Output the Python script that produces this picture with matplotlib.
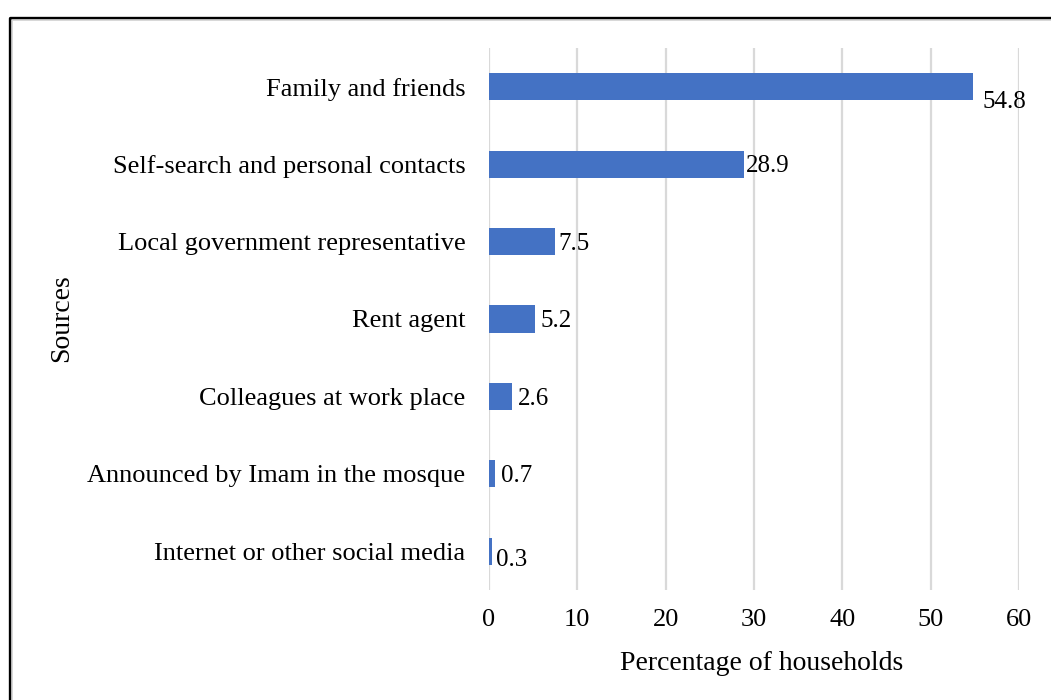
import matplotlib
matplotlib.use("Agg")
import matplotlib.pyplot as plt
from matplotlib.lines import Line2D

sources = [
    "Family and friends",
    "Self-search and personal contacts",
    "Local government representative",
    "Rent agent",
    "Colleagues at work place",
    "Announced by Imam in the mosque",
    "Internet or other social media",
]
percentages = [54.8, 28.9, 7.5, 5.2, 2.6, 0.7, 0.3]
x_ticks = [0, 10, 20, 30, 40, 50, 60]

plt.rcParams["font.family"] = ["Liberation Serif", "DejaVu Serif"]

W, H = 1051, 700
fig = plt.figure(figsize=(W / 100, H / 100), dpi=100)
ax = fig.add_axes([489 / W, 1 - 590 / H, (1019 - 489) / W, (590 - 48) / H])

ypos = list(range(len(sources)))[::-1]
ax.barh(ypos, percentages, height=0.35, color="#4472C4", zorder=3)

ax.set_xlim(0, 60)
ax.set_ylim(-0.5, len(sources) - 0.5)
ax.set_xticks(x_ticks)
ax.set_xticklabels([str(t) for t in x_ticks], fontsize=19)
ax.set_yticks(ypos)
ax.set_yticklabels(sources, fontsize=19)
ax.tick_params(axis="both", length=0)
ax.tick_params(axis="x", pad=14)
ax.tick_params(axis="y", pad=17)
ax.grid(axis="x", color="#D9D9D9", linewidth=1.6, zorder=0)
for s in ax.spines.values():
    s.set_visible(False)

# value labels to the right of each bar; the first and last sit a little lower
label_dy = [-11, -1.5, -1.5, -1.5, -1.5, -1.5, -6]
label_dx = [7, 1, 2, 4, 4, 4, 3]
for y, v, dx, dy in zip(ypos, percentages, label_dx, label_dy):
    ax.annotate(f"{v}", xy=(v, y), xytext=(dx, dy), textcoords="offset points",
                ha="left", va="center", fontsize=18, zorder=4)

ax.set_xlabel("Percentage of households", fontsize=20)
ax.xaxis.label.set_va("center")
ax.xaxis.set_label_coords((762 - 489) / 530, (590 - 663) / 542)
ax.set_ylabel("Sources", fontsize=20)
ax.yaxis.label.set_va("center")
ax.yaxis.set_label_coords((62 - 489) / 530, (590 - 318) / 542)

# frame around the chart area (open on right and bottom)
fig.add_artist(Line2D([9.5 / W, 9.5 / W, 1.0], [0.0, 1 - 17.5 / H, 1 - 17.5 / H],
                      transform=fig.transFigure, color="black", linewidth=2.4))
fig.add_artist(Line2D([11.7 / W, 11.7 / W, 1.0], [0.0, 1 - 19.7 / H, 1 - 19.7 / H],
                      transform=fig.transFigure, color="#D9D9D9", linewidth=1.2))

fig.savefig("out.png", dpi=100, facecolor="white")
